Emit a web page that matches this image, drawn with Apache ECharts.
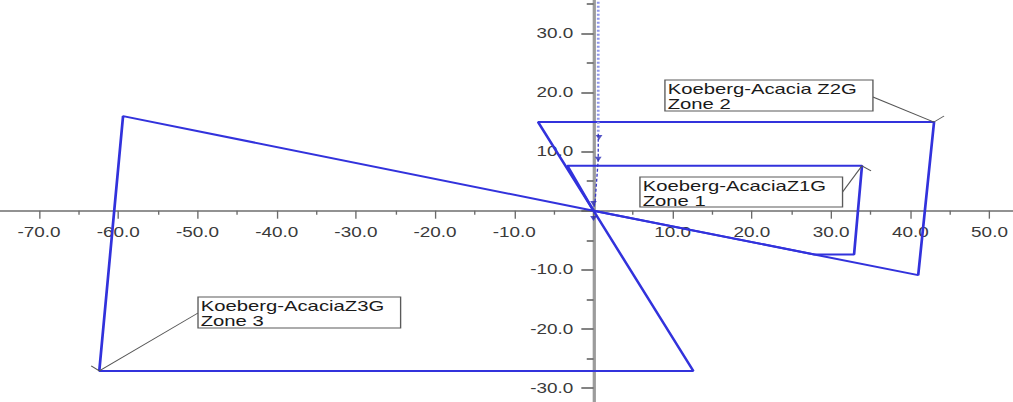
<!DOCTYPE html>
<html>
<head>
<meta charset="utf-8">
<script src="https://cdn.jsdelivr.net/npm/echarts@6/dist/echarts.min.js"></script>
<style>
  html, body { margin: 0; padding: 0; background: #fff; overflow: hidden; width: 1013px; height: 402px; }
  /* the plot is laid out on a 750px wide surface and widened to the page */
  #chart { width: 750px; height: 402px; transform: scaleX(1.350667); transform-origin: 0 0; }
</style>
</head>
<body>
<div id="chart"></div>
<script>
// Quadrilateral distance-protection zones, R (x) vs X (y), ohms
const zone1 = [[0, 0], [-3.3, 7.6], [33.9, 7.6], [32.9, -7.4], [27.9, -7.4], [0, 0]];
const zone2 = [[0, 0], [-7.0, 15.0], [43.0, 15.0], [41.0, -10.9], [0, 0]];
const zone3 = [[0, 0], [-59.4, 16.0], [-62.4, -27.1], [12.6, -27.1], [0, 0]];

// Impedance trajectory near the X axis
const locusFar = [[0.6, 36.0], [0.6, 13.0]];
const locusNear = [[0.6, 13.0], [0.6, 8.7], [0.2, 1.5], [0, 0]];
const locusMarks = [[0.7, 12.4], [0.6, 8.7], [0, 1.2], [0, -1.3]];

// Zone captions
const zoneNames = ['Koeberg-AcaciaZ1G', 'Koeberg-Acacia Z2G', 'Koeberg-AcaciaZ3G'];
const zoneTitles = ['Zone 1', 'Zone 2', 'Zone 3'];

// Labelled ticks
const xTickLabels = [-70, -60, -50, -40, -30, -20, -10, 10, 20, 30, 40, 50];
const yTickLabels = [-30, -20, -10, 10, 20, 30];

// Axis extents and tick step
const xRange = [-80, 60];
const yRange = [-40, 40];
const tickStep = 10;

const BLUE = '#3232dc';

// Plot-area placement on the 750px surface
const GRID = { left: -29.69, right: -41.23, top: -25.78, bottom: -45.18 };
const SURFACE = { w: 750, h: 402 };

const chart = echarts.init(document.getElementById('chart'), null, { renderer: 'svg' });

const labelFor = list => v => (list.indexOf(v) >= 0 ? v.toFixed(1) : '');

// Axes cross at the origin: shift each axis from its grid edge to the other axis's zero
const gridW = SURFACE.w - GRID.left - GRID.right;
const gridH = SURFACE.h - GRID.top - GRID.bottom;
const zeroX = GRID.left + gridW * (0 - xRange[0]) / (xRange[1] - xRange[0]);
const zeroY = GRID.top + gridH * (yRange[1] - 0) / (yRange[1] - yRange[0]);
const xAxisOffset = -((GRID.top + gridH) - zeroY);
const yAxisOffset = -(zeroX - GRID.left);

function zoneSeries(name, data) {
  return {
    name, type: 'line', data,
    showSymbol: false, silent: true, z: 3,
    lineStyle: { color: BLUE, width: 2 }
  };
}

chart.setOption({
  animation: false,
  backgroundColor: '#ffffff',
  grid: Object.assign({ containLabel: false, outerBoundsMode: 'none' }, GRID),
  xAxis: {
    type: 'value', min: xRange[0], max: xRange[1], interval: tickStep,
    position: 'bottom', offset: xAxisOffset,
    splitLine: { show: false },
    axisLine: { onZero: false, lineStyle: { color: '#6e6e6e', width: 1.5 } },
    axisTick: { show: true, length: 8, lineStyle: { color: '#6a6a6a', width: 1 } },
    minorTick: { show: true, splitNumber: 2, length: 4, lineStyle: { color: '#6a6a6a', width: 1 } },
    axisLabel: {
      formatter: labelFor(xTickLabels), margin: 15, color: '#3a3a3a',
      fontFamily: 'Liberation Sans', fontSize: 14
    }
  },
  yAxis: {
    type: 'value', min: yRange[0], max: yRange[1], interval: tickStep,
    position: 'left', offset: yAxisOffset,
    splitLine: { show: false },
    axisLine: { onZero: false, lineStyle: { color: '#9c9c9c', width: 2.4 } },
    axisTick: { show: true, length: 9, lineStyle: { color: '#5a5a5a', width: 1.5 } },
    minorTick: { show: true, splitNumber: 2, length: 5, lineStyle: { color: '#5a5a5a', width: 1.5 } },
    axisLabel: {
      formatter: labelFor(yTickLabels), margin: 15, color: '#3a3a3a',
      fontFamily: 'Liberation Sans', fontSize: 14
    }
  },
  series: [
    zoneSeries('Zone 3', zone3),
    zoneSeries('Zone 2', zone2),
    zoneSeries('Zone 1', zone1),
    {
      name: 'Trajectory (far)', type: 'line', data: locusFar, showSymbol: false, silent: true, z: 4,
      lineStyle: { color: '#8f96ea', width: 2, type: [2, 2] }
    },
    {
      name: 'Trajectory (near)', type: 'line', data: locusNear, showSymbol: false, silent: true, z: 4,
      lineStyle: { color: '#3a3ac8', width: 1, type: [3, 2] }
    },
    {
      name: 'Trajectory points', type: 'scatter', data: locusMarks, silent: true, z: 5,
      symbol: 'triangle', symbolRotate: 180, symbolSize: 5,
      itemStyle: { color: '#2a2ab8' }
    }
  ]
});

// Caption boxes with leader lines to a zone corner
const captions = [
  { corner: zone1[2], x: 473.8, y: 177, w: 150, h: 30, from: [623.8, 192], tick: [6.7, 5] },
  { corner: zone2[2], x: 492.3, y: 80, w: 154, h: 31, from: [646.3, 97], tick: [7.4, -6] },
  { corner: zone3[2], x: 146.6, y: 297, w: 150, h: 31, from: [146.6, 313], tick: [-6, -5] }
];

const graphics = [];
captions.forEach((c, i) => {
  const p = chart.convertToPixel({ gridIndex: 0 }, c.corner);
  graphics.push({
    type: 'line', silent: true, z: 20,
    shape: { x1: c.from[0], y1: c.from[1], x2: p[0], y2: p[1] },
    style: { stroke: '#555', lineWidth: 0.9 }
  });
  graphics.push({
    type: 'line', silent: true, z: 20,
    shape: { x1: p[0], y1: p[1], x2: p[0] + c.tick[0], y2: p[1] + c.tick[1] },
    style: { stroke: '#555', lineWidth: 0.9 }
  });
  graphics.push({
    type: 'rect', silent: true, z: 21,
    shape: { x: c.x, y: c.y, width: c.w, height: c.h },
    style: { fill: '#ffffff', stroke: '#5a5a5a', lineWidth: 1 }
  });
  graphics.push({
    type: 'text', silent: true, z: 22,
    x: c.x + 2, y: c.y + 1,
    style: {
      text: zoneNames[i] + '\n' + zoneTitles[i],
      fontFamily: 'Liberation Sans', fontSize: 15, lineHeight: 15,
      fill: '#1a1a1a', verticalAlign: 'top', align: 'left'
    }
  });
});
chart.setOption({ graphic: graphics });
</script>
</body>
</html>
